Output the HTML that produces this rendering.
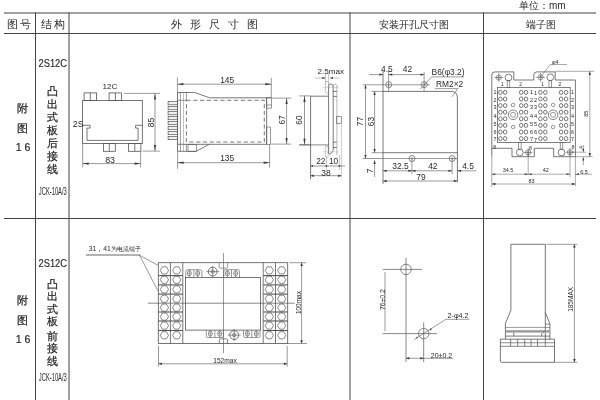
<!DOCTYPE html>
<html><head><meta charset="utf-8"><style>
html,body{margin:0;padding:0;background:#fff;}
body{width:600px;height:400px;overflow:hidden;}
svg{display:block;will-change:transform;}
text{font-family:"Liberation Sans",sans-serif;}
</style></head><body>
<svg width="600" height="400" viewBox="0 0 600 400">
<rect x="0" y="0" width="600" height="400" fill="#fff"/>
<line x1="4" y1="13" x2="596" y2="13" stroke="#444" stroke-width="1" />
<line x1="4" y1="33.5" x2="596" y2="33.5" stroke="#444" stroke-width="1" />
<line x1="4" y1="218.5" x2="596" y2="218.5" stroke="#444" stroke-width="1" />
<line x1="35.5" y1="12.5" x2="35.5" y2="400" stroke="#444" stroke-width="1" />
<line x1="69" y1="12.5" x2="69" y2="400" stroke="#444" stroke-width="1" />
<line x1="350" y1="12.5" x2="350" y2="400" stroke="#444" stroke-width="1" />
<line x1="483.5" y1="12.5" x2="483.5" y2="400" stroke="#444" stroke-width="1" />
<text x="519" y="9" font-size="10" fill="#2a2a2a" text-anchor="start" font-family="Liberation Sans" >单位：mm</text>
<text x="6.8" y="28" font-size="10.5" fill="#2a2a2a" text-anchor="start" font-family="Liberation Sans" >图</text>
<text x="20" y="28" font-size="10.5" fill="#2a2a2a" text-anchor="start" font-family="Liberation Sans" >号</text>
<text x="40.5" y="28" font-size="10.5" fill="#2a2a2a" text-anchor="start" font-family="Liberation Sans" >结</text>
<text x="53.5" y="28" font-size="10.5" fill="#2a2a2a" text-anchor="start" font-family="Liberation Sans" >构</text>
<text x="171.0" y="28" font-size="10.5" fill="#2a2a2a" text-anchor="start" font-family="Liberation Sans" >外</text>
<text x="189.9" y="28" font-size="10.5" fill="#2a2a2a" text-anchor="start" font-family="Liberation Sans" >形</text>
<text x="208.8" y="28" font-size="10.5" fill="#2a2a2a" text-anchor="start" font-family="Liberation Sans" >尺</text>
<text x="227.7" y="28" font-size="10.5" fill="#2a2a2a" text-anchor="start" font-family="Liberation Sans" >寸</text>
<text x="246.6" y="28" font-size="10.5" fill="#2a2a2a" text-anchor="start" font-family="Liberation Sans" >图</text>
<text x="378.5" y="28" font-size="9.8" fill="#2a2a2a" text-anchor="start" font-family="Liberation Sans" >安装开孔尺寸图</text>
<text x="526" y="28" font-size="10" fill="#2a2a2a" text-anchor="start" font-family="Liberation Sans" >端子图</text>
<text x="0" y="0" font-size="10.8" fill="#2a2a2a" font-family="Liberation Sans" text-anchor="middle" transform="translate(52.8 66.8) scale(0.86 1)" stroke="#2a2a2a" stroke-width="0.15">2S12C</text>
<text x="52" y="94.5" font-size="10.5" fill="#2a2a2a" text-anchor="middle" font-family="Liberation Sans" stroke="#2a2a2a" stroke-width="0.25">凸</text>
<text x="52" y="107.8" font-size="10.5" fill="#2a2a2a" text-anchor="middle" font-family="Liberation Sans" stroke="#2a2a2a" stroke-width="0.25">出</text>
<text x="52" y="121.2" font-size="10.5" fill="#2a2a2a" text-anchor="middle" font-family="Liberation Sans" stroke="#2a2a2a" stroke-width="0.25">式</text>
<text x="52" y="134.2" font-size="10.5" fill="#2a2a2a" text-anchor="middle" font-family="Liberation Sans" stroke="#2a2a2a" stroke-width="0.25">板</text>
<text x="52" y="146.5" font-size="10.5" fill="#2a2a2a" text-anchor="middle" font-family="Liberation Sans" stroke="#2a2a2a" stroke-width="0.25">后</text>
<text x="52" y="160.3" font-size="10.5" fill="#2a2a2a" text-anchor="middle" font-family="Liberation Sans" stroke="#2a2a2a" stroke-width="0.25">接</text>
<text x="52" y="172.8" font-size="10.5" fill="#2a2a2a" text-anchor="middle" font-family="Liberation Sans" stroke="#2a2a2a" stroke-width="0.25">线</text>
<text x="22.5" y="112" font-size="10.5" fill="#2a2a2a" text-anchor="middle" font-family="Liberation Sans" stroke="#2a2a2a" stroke-width="0.25">附</text>
<text x="22.5" y="131.8" font-size="10.5" fill="#2a2a2a" text-anchor="middle" font-family="Liberation Sans" stroke="#2a2a2a" stroke-width="0.25">图</text>
<text x="23" y="150.7" font-size="10.5" fill="#2a2a2a" text-anchor="middle" font-family="Liberation Sans" stroke="#2a2a2a" stroke-width="0.2">1&#160;6</text>
<text x="0" y="0" font-size="10" fill="#2a2a2a" font-family="Liberation Sans" text-anchor="middle" transform="translate(52.8 195.3) scale(0.58 1)">JCK-10A/3</text>
<text x="0" y="0" font-size="10.8" fill="#2a2a2a" font-family="Liberation Sans" text-anchor="middle" transform="translate(52.8 266.5) scale(0.86 1)" stroke="#2a2a2a" stroke-width="0.15">2S12C</text>
<text x="52" y="287.8" font-size="10.5" fill="#2a2a2a" text-anchor="middle" font-family="Liberation Sans" stroke="#2a2a2a" stroke-width="0.25">凸</text>
<text x="52" y="300.2" font-size="10.5" fill="#2a2a2a" text-anchor="middle" font-family="Liberation Sans" stroke="#2a2a2a" stroke-width="0.25">出</text>
<text x="52" y="312.5" font-size="10.5" fill="#2a2a2a" text-anchor="middle" font-family="Liberation Sans" stroke="#2a2a2a" stroke-width="0.25">式</text>
<text x="52" y="325" font-size="10.5" fill="#2a2a2a" text-anchor="middle" font-family="Liberation Sans" stroke="#2a2a2a" stroke-width="0.25">板</text>
<text x="52" y="339.5" font-size="10.5" fill="#2a2a2a" text-anchor="middle" font-family="Liberation Sans" stroke="#2a2a2a" stroke-width="0.25">前</text>
<text x="52" y="352" font-size="10.5" fill="#2a2a2a" text-anchor="middle" font-family="Liberation Sans" stroke="#2a2a2a" stroke-width="0.25">接</text>
<text x="52" y="365" font-size="10.5" fill="#2a2a2a" text-anchor="middle" font-family="Liberation Sans" stroke="#2a2a2a" stroke-width="0.25">线</text>
<text x="22.5" y="304.3" font-size="10.5" fill="#2a2a2a" text-anchor="middle" font-family="Liberation Sans" stroke="#2a2a2a" stroke-width="0.25">附</text>
<text x="22.5" y="323.5" font-size="10.5" fill="#2a2a2a" text-anchor="middle" font-family="Liberation Sans" stroke="#2a2a2a" stroke-width="0.25">图</text>
<text x="23" y="343.2" font-size="10.5" fill="#2a2a2a" text-anchor="middle" font-family="Liberation Sans" stroke="#2a2a2a" stroke-width="0.2">1&#160;6</text>
<text x="0" y="0" font-size="10" fill="#2a2a2a" font-family="Liberation Sans" text-anchor="middle" transform="translate(52.8 381.3) scale(0.58 1)">JCK-10A/3</text>
<rect x="82.6" y="100.4" width="59.70" height="43.20" stroke="#555" stroke-width="0.8" fill="none"/>
<rect x="84.1" y="92.9" width="12.50" height="7.50" stroke="#555" stroke-width="0.8" fill="none"/>
<line x1="90.3" y1="92.9" x2="90.3" y2="100.4" stroke="#555" stroke-width="0.8" />
<rect x="109.1" y="92.9" width="12.40" height="7.50" stroke="#555" stroke-width="0.8" fill="none"/>
<line x1="115.4" y1="92.9" x2="115.4" y2="100.4" stroke="#555" stroke-width="0.8" />
<rect x="103.4" y="143.6" width="11.90" height="7.70" stroke="#555" stroke-width="0.8" fill="none"/>
<line x1="109.3" y1="143.6" x2="109.3" y2="151.3" stroke="#555" stroke-width="0.8" />
<rect x="128.5" y="143.6" width="12.40" height="7.70" stroke="#555" stroke-width="0.8" fill="none"/>
<line x1="134.8" y1="143.6" x2="134.8" y2="151.3" stroke="#555" stroke-width="0.8" />
<path d="M82.6,125.3 H90.1 V128.1 H87 V140.4 H138.1 V128.1 H135.6 V125.3 H142.3" stroke="#555" stroke-width="0.8" fill="none" />
<text x="102.6" y="89.2" font-size="8.1" fill="#2a2a2a" text-anchor="start" font-family="Liberation Sans" >12C</text>
<text x="72.8" y="127.2" font-size="8.8" fill="#2a2a2a" text-anchor="start" font-family="Liberation Sans" >2S</text>
<line x1="124" y1="93.4" x2="160" y2="93.4" stroke="#555" stroke-width="0.6" />
<line x1="142.5" y1="151.1" x2="160" y2="151.1" stroke="#555" stroke-width="0.6" />
<line x1="155" y1="93.4" x2="155" y2="151.1" stroke="#555" stroke-width="0.6" />
<path d="M155.00,93.40 L156.10,99.40 L153.90,99.40 Z" fill="#3a3a3a" stroke="none"/>
<path d="M155.00,151.10 L153.90,145.10 L156.10,145.10 Z" fill="#3a3a3a" stroke="none"/>
<text x="153.8" y="122.5" font-size="8.6" fill="#2a2a2a" text-anchor="middle" font-family="Liberation Sans" transform="rotate(-90 153.8 122.5)" >85</text>
<line x1="82.7" y1="144" x2="82.7" y2="167.3" stroke="#555" stroke-width="0.6" />
<line x1="140.6" y1="151.3" x2="140.6" y2="167.3" stroke="#555" stroke-width="0.6" />
<line x1="82.7" y1="163.6" x2="140.6" y2="163.6" stroke="#555" stroke-width="0.6" />
<path d="M82.70,163.60 L88.70,162.50 L88.70,164.70 Z" fill="#3a3a3a" stroke="none"/>
<path d="M140.60,163.60 L134.60,164.70 L134.60,162.50 Z" fill="#3a3a3a" stroke="none"/>
<text x="110.1" y="162.5" font-size="8.8" fill="#2a2a2a" text-anchor="middle" font-family="Liberation Sans" >83</text>
<rect x="168.1" y="101.5" width="9.30" height="3.30" stroke="#555" stroke-width="0.7" fill="#f0f0f0"/>
<rect x="168.1" y="106.48" width="9.30" height="3.30" stroke="#555" stroke-width="0.7" fill="#f0f0f0"/>
<rect x="168.1" y="111.46000000000001" width="9.30" height="3.30" stroke="#555" stroke-width="0.7" fill="#f0f0f0"/>
<rect x="168.1" y="116.44" width="9.30" height="3.30" stroke="#555" stroke-width="0.7" fill="#f0f0f0"/>
<rect x="168.1" y="121.42" width="9.30" height="3.30" stroke="#555" stroke-width="0.7" fill="#f0f0f0"/>
<rect x="168.1" y="126.4" width="9.30" height="3.30" stroke="#555" stroke-width="0.7" fill="#f0f0f0"/>
<rect x="168.1" y="131.38" width="9.30" height="3.30" stroke="#555" stroke-width="0.7" fill="#f0f0f0"/>
<rect x="168.1" y="136.36" width="9.30" height="3.30" stroke="#555" stroke-width="0.7" fill="#f0f0f0"/>
<path d="M177.5,92.5 V151.3 H196.3 L209.1,144.3" stroke="#555" stroke-width="0.8" fill="none" />
<path d="M177.5,92.5 H194.6 L209.7,97.8 H271.3" stroke="#555" stroke-width="0.8" fill="none" />
<line x1="180.4" y1="92.5" x2="180.4" y2="151.3" stroke="#555" stroke-width="0.6" />
<line x1="183.5" y1="92.5" x2="183.5" y2="151.3" stroke="#999" stroke-width="0.6" />
<line x1="186.4" y1="92.5" x2="186.4" y2="100.3" stroke="#555" stroke-width="0.6" />
<line x1="186.4" y1="144.3" x2="186.4" y2="151.3" stroke="#555" stroke-width="0.6" />
<line x1="177.5" y1="100.3" x2="186.3" y2="100.3" stroke="#555" stroke-width="0.6" />
<line x1="177.5" y1="144.3" x2="266.7" y2="144.3" stroke="#555" stroke-width="0.8" />
<rect x="188" y="144.3" width="8.30" height="7.00" stroke="#555" stroke-width="0.6" fill="none"/>
<path d="M186.4,100.3 H264.3 V142 H186.4 Z" stroke="#555" stroke-width="0.8" fill="none" stroke-dasharray="4.2,2.6"/>
<line x1="266.7" y1="97.8" x2="266.7" y2="144.3" stroke="#555" stroke-width="0.8" />
<rect x="266.7" y="97.8" width="4.60" height="10.30" stroke="#555" stroke-width="0.6" fill="none"/>
<line x1="266.7" y1="105" x2="271.3" y2="105" stroke="#555" stroke-width="0.6" />
<rect x="266.7" y="127" width="3.70" height="17.30" stroke="#555" stroke-width="0.6" fill="none"/>
<line x1="177.4" y1="77.4" x2="177.4" y2="92.5" stroke="#555" stroke-width="0.6" />
<line x1="271.3" y1="78" x2="271.3" y2="97.8" stroke="#555" stroke-width="0.6" />
<line x1="177.4" y1="84.2" x2="271.3" y2="84.2" stroke="#555" stroke-width="0.6" />
<path d="M177.40,84.20 L183.40,83.10 L183.40,85.30 Z" fill="#3a3a3a" stroke="none"/>
<path d="M271.30,84.20 L265.30,85.30 L265.30,83.10 Z" fill="#3a3a3a" stroke="none"/>
<text x="227.2" y="82.9" font-size="8.4" fill="#2a2a2a" text-anchor="middle" font-family="Liberation Sans" >145</text>
<line x1="177.6" y1="151.3" x2="177.6" y2="168.8" stroke="#555" stroke-width="0.6" />
<line x1="269.6" y1="144.3" x2="269.6" y2="167.6" stroke="#555" stroke-width="0.6" />
<line x1="177.6" y1="162.7" x2="269.6" y2="162.7" stroke="#555" stroke-width="0.6" />
<path d="M177.60,162.70 L183.60,161.60 L183.60,163.80 Z" fill="#3a3a3a" stroke="none"/>
<path d="M269.60,162.70 L263.60,163.80 L263.60,161.60 Z" fill="#3a3a3a" stroke="none"/>
<text x="227.2" y="160.9" font-size="8.4" fill="#2a2a2a" text-anchor="middle" font-family="Liberation Sans" >135</text>
<line x1="272" y1="98.1" x2="291.3" y2="98.1" stroke="#555" stroke-width="0.6" />
<line x1="271" y1="144.1" x2="291" y2="144.1" stroke="#555" stroke-width="0.6" />
<line x1="286.6" y1="98.1" x2="286.6" y2="144.1" stroke="#555" stroke-width="0.6" />
<path d="M286.60,98.10 L287.70,104.10 L285.50,104.10 Z" fill="#3a3a3a" stroke="none"/>
<path d="M286.60,144.10 L285.50,138.10 L287.70,138.10 Z" fill="#3a3a3a" stroke="none"/>
<text x="284.6" y="119.9" font-size="8.4" fill="#2a2a2a" text-anchor="middle" font-family="Liberation Sans" transform="rotate(-90 284.6 119.9)" >67</text>
<line x1="299.2" y1="95.9" x2="310.5" y2="95.9" stroke="#555" stroke-width="0.6" />
<line x1="299.2" y1="144.8" x2="310.5" y2="144.8" stroke="#555" stroke-width="0.6" />
<line x1="304.5" y1="95.9" x2="304.5" y2="144.8" stroke="#555" stroke-width="0.6" />
<path d="M304.50,95.90 L305.60,101.90 L303.40,101.90 Z" fill="#3a3a3a" stroke="none"/>
<path d="M304.50,144.80 L303.40,138.80 L305.60,138.80 Z" fill="#3a3a3a" stroke="none"/>
<text x="301.7" y="120" font-size="8.4" fill="#2a2a2a" text-anchor="middle" font-family="Liberation Sans" transform="rotate(-90 301.7 120)" >60</text>
<path d="M310.6,179.4 V96.2 H328.5" stroke="#555" stroke-width="0.8" fill="none" />
<line x1="299.2" y1="144.9" x2="328.5" y2="144.9" stroke="#555" stroke-width="0.7" />
<path d="M328.6,153.6 V85.6 Q328.8,84 330.6,84 Q333.2,84.3 333.2,86.6 V150.6 L330.8,153.6 Q329.7,154.6 328.6,153.6" stroke="#555" stroke-width="0.8" fill="none" />
<path d="M333.2,86.6 Q333.4,84 335.1,84 Q336.9,84.2 336.9,86.4 V155" stroke="#888" stroke-width="0.6" fill="none" />
<rect x="325.4" y="81.4" width="3.1" height="11.6" rx="1.5" ry="1.5" stroke="#777" stroke-width="0.6" fill="none" stroke-dasharray="1.6,0.8"/>
<line x1="323.1" y1="87.4" x2="338.7" y2="87.4" stroke="#aaa" stroke-width="0.5" />
<line x1="333.2" y1="91.4" x2="336.9" y2="91.4" stroke="#555" stroke-width="0.8" />
<line x1="333.2" y1="96.4" x2="336.9" y2="96.4" stroke="#555" stroke-width="0.8" />
<rect x="336.6" y="116.7" width="5.00" height="6.80" stroke="#555" stroke-width="0.6" fill="none"/>
<line x1="341.4" y1="123.5" x2="341.4" y2="177.5" stroke="#999" stroke-width="0.5" />
<rect x="325.3" y="146.3" width="2.9" height="10.9" rx="1" ry="1" stroke="#777" stroke-width="0.6" fill="none" stroke-dasharray="1.6,0.8"/>
<line x1="333.2" y1="142.2" x2="336.7" y2="142.2" stroke="#555" stroke-width="0.8" />
<line x1="333.2" y1="147.5" x2="336.7" y2="147.5" stroke="#555" stroke-width="0.8" />
<line x1="323.1" y1="151.9" x2="338.7" y2="151.9" stroke="#aaa" stroke-width="0.5" />
<line x1="326.4" y1="157" x2="326.4" y2="170" stroke="#888" stroke-width="0.5" />
<line x1="339.4" y1="155" x2="339.4" y2="170" stroke="#888" stroke-width="0.5" />
<line x1="310" y1="166" x2="345" y2="166" stroke="#555" stroke-width="0.6" />
<circle cx="312.4" cy="166" r="1" stroke="#555" stroke-width="0" fill="#555"/>
<circle cx="326.4" cy="166" r="1" stroke="#555" stroke-width="0" fill="#555"/>
<circle cx="339.4" cy="166" r="1" stroke="#555" stroke-width="0" fill="#555"/>
<text x="320.8" y="164.3" font-size="8.4" fill="#2a2a2a" text-anchor="middle" font-family="Liberation Sans" >22</text>
<text x="333.6" y="164.3" font-size="8.4" fill="#2a2a2a" text-anchor="middle" font-family="Liberation Sans" >10</text>
<line x1="310.6" y1="175.7" x2="341.4" y2="175.7" stroke="#555" stroke-width="0.6" />
<path d="M310.60,175.70 L313.90,174.50 L313.90,176.90 Z" fill="#3a3a3a" stroke="none"/>
<path d="M341.40,175.70 L338.10,176.90 L338.10,174.50 Z" fill="#3a3a3a" stroke="none"/>
<text x="325.9" y="176" font-size="8.4" fill="#2a2a2a" text-anchor="middle" font-family="Liberation Sans" >38</text>
<line x1="325.6" y1="73" x2="325.6" y2="83.5" stroke="#888" stroke-width="0.5" />
<line x1="328.55" y1="73" x2="328.55" y2="83.5" stroke="#888" stroke-width="0.5" />
<line x1="315.5" y1="78" x2="325.5" y2="78" stroke="#999" stroke-width="0.6" />
<path d="M325.50,78.00 L322.30,79.10 L322.30,76.90 Z" fill="#3a3a3a" stroke="none"/>
<line x1="329.8" y1="78" x2="339.2" y2="78" stroke="#999" stroke-width="0.6" />
<path d="M329.80,78.00 L333.00,76.90 L333.00,79.10 Z" fill="#3a3a3a" stroke="none"/>
<text x="317.6" y="73.5" font-size="8.1" fill="#2a2a2a" text-anchor="start" font-family="Liberation Sans" >2.5max</text>
<path d="M383,70 V183.9" stroke="#555" stroke-width="0.8" fill="none" />
<path d="M383,91.4 H450.9 Q457.4,91.4 457.4,97.9 V182.2" stroke="#555" stroke-width="0.8" fill="none" />
<line x1="383" y1="152.7" x2="457.4" y2="152.7" stroke="#555" stroke-width="0.8" />
<line x1="371.6" y1="91.4" x2="383" y2="91.4" stroke="#555" stroke-width="0.6" />
<line x1="371.6" y1="152.7" x2="383" y2="152.7" stroke="#555" stroke-width="0.6" />
<line x1="362.9" y1="84.8" x2="430" y2="84.8" stroke="#555" stroke-width="0.6" />
<line x1="362.9" y1="158.5" x2="458" y2="158.5" stroke="#555" stroke-width="0.6" />
<circle cx="388.7" cy="84.6" r="3" stroke="#555" stroke-width="0.7" fill="none"/>
<line x1="388.7" y1="83.0" x2="388.7" y2="86.19999999999999" stroke="#555" stroke-width="0.5" />
<circle cx="424.3" cy="84.6" r="3" stroke="#555" stroke-width="0.7" fill="none"/>
<line x1="424.3" y1="83.0" x2="424.3" y2="86.19999999999999" stroke="#555" stroke-width="0.5" />
<circle cx="412" cy="158.5" r="3" stroke="#555" stroke-width="0.7" fill="none"/>
<line x1="412" y1="156.9" x2="412" y2="160.1" stroke="#555" stroke-width="0.5" />
<circle cx="452.2" cy="158.5" r="3" stroke="#555" stroke-width="0.7" fill="none"/>
<line x1="452.2" y1="156.9" x2="452.2" y2="160.1" stroke="#555" stroke-width="0.5" />
<line x1="388.6" y1="70" x2="388.6" y2="91.4" stroke="#555" stroke-width="0.6" />
<line x1="424.1" y1="72" x2="424.1" y2="91.4" stroke="#555" stroke-width="0.6" />
<line x1="369" y1="74.6" x2="383" y2="74.6" stroke="#555" stroke-width="0.6" />
<path d="M383.00,74.60 L379.40,75.75 L379.40,73.45 Z" fill="#3a3a3a" stroke="none"/>
<line x1="388.6" y1="74.6" x2="424.1" y2="74.6" stroke="#555" stroke-width="0.6" />
<path d="M388.60,74.60 L392.20,73.45 L392.20,75.75 Z" fill="#3a3a3a" stroke="none"/>
<path d="M424.10,74.60 L420.50,75.75 L420.50,73.45 Z" fill="#3a3a3a" stroke="none"/>
<text x="386.8" y="72" font-size="8.4" fill="#2a2a2a" text-anchor="middle" font-family="Liberation Sans" >4.5</text>
<text x="407.5" y="72" font-size="8.4" fill="#2a2a2a" text-anchor="middle" font-family="Liberation Sans" >42</text>
<line x1="365.5" y1="84.8" x2="365.5" y2="158.5" stroke="#555" stroke-width="0.6" />
<path d="M365.50,84.80 L366.65,88.40 L364.35,88.40 Z" fill="#3a3a3a" stroke="none"/>
<path d="M365.50,158.50 L364.35,154.90 L366.65,154.90 Z" fill="#3a3a3a" stroke="none"/>
<text x="362.9" y="121.5" font-size="8.4" fill="#2a2a2a" text-anchor="middle" font-family="Liberation Sans" transform="rotate(-90 362.9 121.5)" >77</text>
<line x1="374.6" y1="91.4" x2="374.6" y2="152.7" stroke="#555" stroke-width="0.6" />
<path d="M374.60,91.40 L375.75,95.00 L373.45,95.00 Z" fill="#3a3a3a" stroke="none"/>
<path d="M374.60,152.70 L373.45,149.10 L375.75,149.10 Z" fill="#3a3a3a" stroke="none"/>
<text x="374.4" y="121.5" font-size="8.4" fill="#2a2a2a" text-anchor="middle" font-family="Liberation Sans" transform="rotate(-90 374.4 121.5)" >63</text>
<line x1="374.6" y1="160.3" x2="374.6" y2="176.9" stroke="#555" stroke-width="0.6" />
<path d="M374.60,160.30 L375.75,163.90 L373.45,163.90 Z" fill="#3a3a3a" stroke="none"/>
<text x="373.4" y="170.8" font-size="8.4" fill="#2a2a2a" text-anchor="middle" font-family="Liberation Sans" transform="rotate(-90 373.4 170.8)" >7</text>
<line x1="411.9" y1="158.5" x2="411.9" y2="174.3" stroke="#555" stroke-width="0.6" />
<line x1="452.1" y1="158.5" x2="452.1" y2="174.3" stroke="#555" stroke-width="0.6" />
<line x1="383" y1="170.8" x2="452.1" y2="170.8" stroke="#555" stroke-width="0.6" />
<path d="M383.00,170.80 L386.60,169.65 L386.60,171.95 Z" fill="#3a3a3a" stroke="none"/>
<path d="M411.90,170.80 L408.30,171.95 L408.30,169.65 Z" fill="#3a3a3a" stroke="none"/>
<path d="M411.90,170.80 L415.50,169.65 L415.50,171.95 Z" fill="#3a3a3a" stroke="none"/>
<path d="M452.10,170.80 L448.50,171.95 L448.50,169.65 Z" fill="#3a3a3a" stroke="none"/>
<line x1="457.4" y1="170.8" x2="476.3" y2="170.8" stroke="#555" stroke-width="0.6" />
<path d="M457.40,170.80 L461.00,169.65 L461.00,171.95 Z" fill="#3a3a3a" stroke="none"/>
<text x="400.5" y="169" font-size="8.4" fill="#2a2a2a" text-anchor="middle" font-family="Liberation Sans" >32.5</text>
<text x="432.8" y="168.7" font-size="8.4" fill="#2a2a2a" text-anchor="middle" font-family="Liberation Sans" >42</text>
<text x="468" y="168.7" font-size="8.4" fill="#2a2a2a" text-anchor="middle" font-family="Liberation Sans" >4.5</text>
<line x1="383" y1="181" x2="457.4" y2="181" stroke="#555" stroke-width="0.6" />
<path d="M383.00,181.00 L386.60,179.85 L386.60,182.15 Z" fill="#3a3a3a" stroke="none"/>
<path d="M457.40,181.00 L453.80,182.15 L453.80,179.85 Z" fill="#3a3a3a" stroke="none"/>
<text x="421" y="179.5" font-size="8.4" fill="#2a2a2a" text-anchor="middle" font-family="Liberation Sans" >79</text>
<text x="431.6" y="75.1" font-size="8.4" fill="#2a2a2a" text-anchor="start" font-family="Liberation Sans" >B6(φ3.2)</text>
<line x1="431.6" y1="76.9" x2="464" y2="76.9" stroke="#555" stroke-width="0.6" />
<line x1="431.6" y1="76.9" x2="420.3" y2="89.1" stroke="#555" stroke-width="0.6" />
<text x="436" y="87.4" font-size="8.4" fill="#2a2a2a" text-anchor="start" font-family="Liberation Sans" >RM2×2</text>
<line x1="435.1" y1="88.6" x2="457.9" y2="88.6" stroke="#555" stroke-width="0.6" />
<line x1="457.9" y1="88.6" x2="451.8" y2="96.7" stroke="#555" stroke-width="0.6" />
<path d="M491.8,156.7 V148.3 M491.8,148.3 V75 Q491.8,71.9 494.9,71.9 H513.8 V80 H533.8 V75 Q533.8,71.9 536.9,71.9 H555.2 V80 H575.4 V156.7 H553.7 V148.3 H534.3 V156.7 H512 V148.3 H491.8" stroke="#555" stroke-width="0.8" fill="none" />
<rect x="497.4" y="87.5" width="72.80" height="55.10" stroke="#555" stroke-width="0.75" fill="none"/>
<circle cx="498.8" cy="77.5" r="2.6" stroke="#555" stroke-width="0.6" fill="none"/>
<line x1="494.5" y1="77.5" x2="503.1" y2="77.5" stroke="#555" stroke-width="0.6" />
<line x1="498.8" y1="73.2" x2="498.8" y2="81.8" stroke="#555" stroke-width="0.6" />
<circle cx="498.8" cy="77.5" r="0.9" stroke="#555" stroke-width="0.5" fill="none"/>
<circle cx="540.6" cy="77.3" r="2.6" stroke="#555" stroke-width="0.6" fill="none"/>
<line x1="536.3000000000001" y1="77.3" x2="544.9" y2="77.3" stroke="#555" stroke-width="0.6" />
<line x1="540.6" y1="73.0" x2="540.6" y2="81.6" stroke="#555" stroke-width="0.6" />
<circle cx="540.6" cy="77.3" r="0.9" stroke="#555" stroke-width="0.5" fill="none"/>
<circle cx="528.2" cy="152.4" r="2.6" stroke="#555" stroke-width="0.6" fill="none"/>
<line x1="523.9000000000001" y1="152.4" x2="532.5" y2="152.4" stroke="#555" stroke-width="0.6" />
<line x1="528.2" y1="148.1" x2="528.2" y2="156.70000000000002" stroke="#555" stroke-width="0.6" />
<circle cx="528.2" cy="152.4" r="0.9" stroke="#555" stroke-width="0.5" fill="none"/>
<circle cx="570" cy="152.2" r="2.6" stroke="#555" stroke-width="0.6" fill="none"/>
<line x1="565.7" y1="152.2" x2="574.3" y2="152.2" stroke="#555" stroke-width="0.6" />
<line x1="570" y1="147.89999999999998" x2="570" y2="156.5" stroke="#555" stroke-width="0.6" />
<circle cx="570" cy="152.2" r="0.9" stroke="#555" stroke-width="0.5" fill="none"/>
<circle cx="508.5" cy="77.5" r="3.4" stroke="#555" stroke-width="0.75" fill="#fff"/>
<rect x="507.2" y="80.5" width="2.60" height="6.90" stroke="#555" stroke-width="0.6" fill="none"/>
<circle cx="550.3" cy="77.3" r="3.4" stroke="#555" stroke-width="0.75" fill="#fff"/>
<rect x="549.0" y="80.5" width="2.60" height="6.90" stroke="#555" stroke-width="0.6" fill="none"/>
<circle cx="519.8" cy="152.5" r="3.4" stroke="#555" stroke-width="0.75" fill="#fff"/>
<rect x="518.5" y="142.7" width="2.60" height="6.80" stroke="#555" stroke-width="0.6" fill="none"/>
<circle cx="561.5" cy="152.5" r="3.4" stroke="#555" stroke-width="0.75" fill="#fff"/>
<rect x="560.2" y="142.7" width="2.60" height="6.80" stroke="#555" stroke-width="0.6" fill="none"/>
<text x="502.5" y="86" font-size="5" fill="#2a2a2a" text-anchor="middle" font-family="Liberation Sans" >1</text>
<text x="520.6" y="86" font-size="5" fill="#2a2a2a" text-anchor="middle" font-family="Liberation Sans" >2</text>
<text x="542.7" y="86" font-size="5" fill="#2a2a2a" text-anchor="middle" font-family="Liberation Sans" >1</text>
<text x="560" y="86" font-size="5" fill="#2a2a2a" text-anchor="middle" font-family="Liberation Sans" >2</text>
<text x="494.7" y="148.6" font-size="5" fill="#2a2a2a" text-anchor="middle" font-family="Liberation Sans" >8</text>
<text x="530.5" y="149.5" font-size="5" fill="#2a2a2a" text-anchor="middle" font-family="Liberation Sans" >8</text>
<text x="572.8" y="149" font-size="5" fill="#2a2a2a" text-anchor="middle" font-family="Liberation Sans" >8</text>
<ellipse cx="500.4" cy="92.40" rx="1.75" ry="2.05" stroke="#555" stroke-width="0.8" fill="none"/>
<ellipse cx="505.1" cy="92.40" rx="1.75" ry="2.05" stroke="#555" stroke-width="0.8" fill="none"/>
<ellipse cx="521.2" cy="92.40" rx="1.75" ry="2.05" stroke="#555" stroke-width="0.8" fill="none"/>
<ellipse cx="526.0" cy="92.40" rx="1.75" ry="2.05" stroke="#555" stroke-width="0.8" fill="none"/>
<ellipse cx="540.4" cy="92.40" rx="1.75" ry="2.05" stroke="#555" stroke-width="0.8" fill="none"/>
<ellipse cx="545.3" cy="92.40" rx="1.75" ry="2.05" stroke="#555" stroke-width="0.8" fill="none"/>
<ellipse cx="561.1" cy="92.40" rx="1.75" ry="2.05" stroke="#555" stroke-width="0.8" fill="none"/>
<ellipse cx="566.1" cy="92.40" rx="1.75" ry="2.05" stroke="#555" stroke-width="0.8" fill="none"/>
<ellipse cx="500.4" cy="99.00" rx="1.75" ry="2.05" stroke="#555" stroke-width="0.8" fill="none"/>
<ellipse cx="505.1" cy="99.00" rx="1.75" ry="2.05" stroke="#555" stroke-width="0.8" fill="none"/>
<ellipse cx="521.2" cy="99.00" rx="1.75" ry="2.05" stroke="#555" stroke-width="0.8" fill="none"/>
<ellipse cx="526.0" cy="99.00" rx="1.75" ry="2.05" stroke="#555" stroke-width="0.8" fill="none"/>
<ellipse cx="540.4" cy="99.00" rx="1.75" ry="2.05" stroke="#555" stroke-width="0.8" fill="none"/>
<ellipse cx="545.3" cy="99.00" rx="1.75" ry="2.05" stroke="#555" stroke-width="0.8" fill="none"/>
<ellipse cx="561.1" cy="99.00" rx="1.75" ry="2.05" stroke="#555" stroke-width="0.8" fill="none"/>
<ellipse cx="566.1" cy="99.00" rx="1.75" ry="2.05" stroke="#555" stroke-width="0.8" fill="none"/>
<ellipse cx="500.4" cy="105.60" rx="1.75" ry="2.05" stroke="#555" stroke-width="0.8" fill="none"/>
<ellipse cx="505.1" cy="105.60" rx="1.75" ry="2.05" stroke="#555" stroke-width="0.8" fill="none"/>
<ellipse cx="521.2" cy="105.60" rx="1.75" ry="2.05" stroke="#555" stroke-width="0.8" fill="none"/>
<ellipse cx="526.0" cy="105.60" rx="1.75" ry="2.05" stroke="#555" stroke-width="0.8" fill="none"/>
<ellipse cx="540.4" cy="105.60" rx="1.75" ry="2.05" stroke="#555" stroke-width="0.8" fill="none"/>
<ellipse cx="545.3" cy="105.60" rx="1.75" ry="2.05" stroke="#555" stroke-width="0.8" fill="none"/>
<ellipse cx="561.1" cy="105.60" rx="1.75" ry="2.05" stroke="#555" stroke-width="0.8" fill="none"/>
<ellipse cx="566.1" cy="105.60" rx="1.75" ry="2.05" stroke="#555" stroke-width="0.8" fill="none"/>
<ellipse cx="500.4" cy="112.20" rx="1.75" ry="2.05" stroke="#555" stroke-width="0.8" fill="none"/>
<ellipse cx="505.1" cy="112.20" rx="1.75" ry="2.05" stroke="#555" stroke-width="0.8" fill="none"/>
<ellipse cx="521.2" cy="112.20" rx="1.75" ry="2.05" stroke="#555" stroke-width="0.8" fill="none"/>
<ellipse cx="526.0" cy="112.20" rx="1.75" ry="2.05" stroke="#555" stroke-width="0.8" fill="none"/>
<ellipse cx="540.4" cy="112.20" rx="1.75" ry="2.05" stroke="#555" stroke-width="0.8" fill="none"/>
<ellipse cx="545.3" cy="112.20" rx="1.75" ry="2.05" stroke="#555" stroke-width="0.8" fill="none"/>
<ellipse cx="561.1" cy="112.20" rx="1.75" ry="2.05" stroke="#555" stroke-width="0.8" fill="none"/>
<ellipse cx="566.1" cy="112.20" rx="1.75" ry="2.05" stroke="#555" stroke-width="0.8" fill="none"/>
<ellipse cx="500.4" cy="118.80" rx="1.75" ry="2.05" stroke="#555" stroke-width="0.8" fill="none"/>
<ellipse cx="505.1" cy="118.80" rx="1.75" ry="2.05" stroke="#555" stroke-width="0.8" fill="none"/>
<ellipse cx="521.2" cy="118.80" rx="1.75" ry="2.05" stroke="#555" stroke-width="0.8" fill="none"/>
<ellipse cx="526.0" cy="118.80" rx="1.75" ry="2.05" stroke="#555" stroke-width="0.8" fill="none"/>
<ellipse cx="540.4" cy="118.80" rx="1.75" ry="2.05" stroke="#555" stroke-width="0.8" fill="none"/>
<ellipse cx="545.3" cy="118.80" rx="1.75" ry="2.05" stroke="#555" stroke-width="0.8" fill="none"/>
<ellipse cx="561.1" cy="118.80" rx="1.75" ry="2.05" stroke="#555" stroke-width="0.8" fill="none"/>
<ellipse cx="566.1" cy="118.80" rx="1.75" ry="2.05" stroke="#555" stroke-width="0.8" fill="none"/>
<ellipse cx="500.4" cy="125.40" rx="1.75" ry="2.05" stroke="#555" stroke-width="0.8" fill="none"/>
<ellipse cx="505.1" cy="125.40" rx="1.75" ry="2.05" stroke="#555" stroke-width="0.8" fill="none"/>
<ellipse cx="521.2" cy="125.40" rx="1.75" ry="2.05" stroke="#555" stroke-width="0.8" fill="none"/>
<ellipse cx="526.0" cy="125.40" rx="1.75" ry="2.05" stroke="#555" stroke-width="0.8" fill="none"/>
<ellipse cx="540.4" cy="125.40" rx="1.75" ry="2.05" stroke="#555" stroke-width="0.8" fill="none"/>
<ellipse cx="545.3" cy="125.40" rx="1.75" ry="2.05" stroke="#555" stroke-width="0.8" fill="none"/>
<ellipse cx="561.1" cy="125.40" rx="1.75" ry="2.05" stroke="#555" stroke-width="0.8" fill="none"/>
<ellipse cx="566.1" cy="125.40" rx="1.75" ry="2.05" stroke="#555" stroke-width="0.8" fill="none"/>
<ellipse cx="500.4" cy="132.00" rx="1.75" ry="2.05" stroke="#555" stroke-width="0.8" fill="none"/>
<ellipse cx="505.1" cy="132.00" rx="1.75" ry="2.05" stroke="#555" stroke-width="0.8" fill="none"/>
<ellipse cx="521.2" cy="132.00" rx="1.75" ry="2.05" stroke="#555" stroke-width="0.8" fill="none"/>
<ellipse cx="526.0" cy="132.00" rx="1.75" ry="2.05" stroke="#555" stroke-width="0.8" fill="none"/>
<ellipse cx="540.4" cy="132.00" rx="1.75" ry="2.05" stroke="#555" stroke-width="0.8" fill="none"/>
<ellipse cx="545.3" cy="132.00" rx="1.75" ry="2.05" stroke="#555" stroke-width="0.8" fill="none"/>
<ellipse cx="561.1" cy="132.00" rx="1.75" ry="2.05" stroke="#555" stroke-width="0.8" fill="none"/>
<ellipse cx="566.1" cy="132.00" rx="1.75" ry="2.05" stroke="#555" stroke-width="0.8" fill="none"/>
<ellipse cx="500.4" cy="138.60" rx="1.75" ry="2.05" stroke="#555" stroke-width="0.8" fill="none"/>
<ellipse cx="505.1" cy="138.60" rx="1.75" ry="2.05" stroke="#555" stroke-width="0.8" fill="none"/>
<ellipse cx="521.2" cy="138.60" rx="1.75" ry="2.05" stroke="#555" stroke-width="0.8" fill="none"/>
<ellipse cx="526.0" cy="138.60" rx="1.75" ry="2.05" stroke="#555" stroke-width="0.8" fill="none"/>
<ellipse cx="540.4" cy="138.60" rx="1.75" ry="2.05" stroke="#555" stroke-width="0.8" fill="none"/>
<ellipse cx="545.3" cy="138.60" rx="1.75" ry="2.05" stroke="#555" stroke-width="0.8" fill="none"/>
<ellipse cx="561.1" cy="138.60" rx="1.75" ry="2.05" stroke="#555" stroke-width="0.8" fill="none"/>
<ellipse cx="566.1" cy="138.60" rx="1.75" ry="2.05" stroke="#555" stroke-width="0.8" fill="none"/>
<text x="495.1" y="94.2" font-size="5.4" fill="#2a2a2a" text-anchor="middle" font-family="Liberation Sans" >1</text>
<text x="572.6" y="94.2" font-size="5.4" fill="#2a2a2a" text-anchor="middle" font-family="Liberation Sans" >1</text>
<text x="531.6" y="94.10000000000001" font-size="5.6" fill="#2a2a2a" text-anchor="middle" font-family="Liberation Sans" >1</text>
<text x="535.6" y="94.5" font-size="5.6" fill="#2a2a2a" text-anchor="middle" font-family="Liberation Sans" >1</text>
<text x="495.1" y="101.9" font-size="5.4" fill="#2a2a2a" text-anchor="middle" font-family="Liberation Sans" >2</text>
<text x="572.6" y="101.9" font-size="5.4" fill="#2a2a2a" text-anchor="middle" font-family="Liberation Sans" >2</text>
<text x="531.6" y="101.80000000000001" font-size="5.6" fill="#2a2a2a" text-anchor="middle" font-family="Liberation Sans" >2</text>
<text x="535.6" y="102.2" font-size="5.6" fill="#2a2a2a" text-anchor="middle" font-family="Liberation Sans" >2</text>
<text x="495.1" y="109.0" font-size="5.4" fill="#2a2a2a" text-anchor="middle" font-family="Liberation Sans" >3</text>
<text x="572.6" y="109.0" font-size="5.4" fill="#2a2a2a" text-anchor="middle" font-family="Liberation Sans" >3</text>
<text x="531.6" y="108.9" font-size="5.6" fill="#2a2a2a" text-anchor="middle" font-family="Liberation Sans" >3</text>
<text x="535.6" y="109.3" font-size="5.6" fill="#2a2a2a" text-anchor="middle" font-family="Liberation Sans" >3</text>
<text x="495.1" y="117.6" font-size="5.4" fill="#2a2a2a" text-anchor="middle" font-family="Liberation Sans" >4</text>
<text x="572.6" y="117.6" font-size="5.4" fill="#2a2a2a" text-anchor="middle" font-family="Liberation Sans" >4</text>
<text x="531.6" y="117.5" font-size="5.6" fill="#2a2a2a" text-anchor="middle" font-family="Liberation Sans" >4</text>
<text x="535.6" y="117.89999999999999" font-size="5.6" fill="#2a2a2a" text-anchor="middle" font-family="Liberation Sans" >4</text>
<text x="495.1" y="125.8" font-size="5.4" fill="#2a2a2a" text-anchor="middle" font-family="Liberation Sans" >5</text>
<text x="572.6" y="125.8" font-size="5.4" fill="#2a2a2a" text-anchor="middle" font-family="Liberation Sans" >5</text>
<text x="531.6" y="125.7" font-size="5.6" fill="#2a2a2a" text-anchor="middle" font-family="Liberation Sans" >5</text>
<text x="535.6" y="126.1" font-size="5.6" fill="#2a2a2a" text-anchor="middle" font-family="Liberation Sans" >5</text>
<text x="495.1" y="133.9" font-size="5.4" fill="#2a2a2a" text-anchor="middle" font-family="Liberation Sans" >6</text>
<text x="572.6" y="133.9" font-size="5.4" fill="#2a2a2a" text-anchor="middle" font-family="Liberation Sans" >6</text>
<text x="531.6" y="133.8" font-size="5.6" fill="#2a2a2a" text-anchor="middle" font-family="Liberation Sans" >6</text>
<text x="535.6" y="134.20000000000002" font-size="5.6" fill="#2a2a2a" text-anchor="middle" font-family="Liberation Sans" >6</text>
<text x="495.1" y="141.2" font-size="5.4" fill="#2a2a2a" text-anchor="middle" font-family="Liberation Sans" >7</text>
<text x="572.6" y="141.2" font-size="5.4" fill="#2a2a2a" text-anchor="middle" font-family="Liberation Sans" >7</text>
<text x="531.6" y="141.1" font-size="5.6" fill="#2a2a2a" text-anchor="middle" font-family="Liberation Sans" >7</text>
<text x="535.6" y="141.5" font-size="5.6" fill="#2a2a2a" text-anchor="middle" font-family="Liberation Sans" >7</text>
<circle cx="513.1" cy="114.8" r="4.8" stroke="#555" stroke-width="0.7" fill="none"/>
<circle cx="513.1" cy="114.8" r="2.5" stroke="#555" stroke-width="0.6" fill="none"/>
<circle cx="513.1" cy="105" r="1.8" stroke="#555" stroke-width="0.6" fill="none"/>
<circle cx="513.1" cy="127" r="1.8" stroke="#555" stroke-width="0.6" fill="none"/>
<circle cx="553.1" cy="114.8" r="4.8" stroke="#555" stroke-width="0.7" fill="none"/>
<circle cx="553.1" cy="114.8" r="2.5" stroke="#555" stroke-width="0.6" fill="none"/>
<circle cx="553.1" cy="105" r="1.8" stroke="#555" stroke-width="0.6" fill="none"/>
<circle cx="553.1" cy="127" r="1.8" stroke="#555" stroke-width="0.6" fill="none"/>
<text x="555.3" y="63.7" font-size="5.5" fill="#2a2a2a" text-anchor="middle" font-family="Liberation Sans" >φ4</text>
<line x1="550.3" y1="64.5" x2="567" y2="64.5" stroke="#555" stroke-width="0.5" />
<line x1="550.3" y1="64.5" x2="540.6" y2="77.2" stroke="#555" stroke-width="0.5" />
<line x1="555.2" y1="71.3" x2="594.2" y2="71.3" stroke="#555" stroke-width="0.5" />
<line x1="575.4" y1="156.7" x2="592.7" y2="156.7" stroke="#555" stroke-width="0.5" />
<line x1="589.8" y1="71.3" x2="589.8" y2="156.7" stroke="#555" stroke-width="0.5" />
<path d="M589.80,71.30 L590.95,74.90 L588.65,74.90 Z" fill="#3a3a3a" stroke="none"/>
<path d="M589.80,156.70 L588.65,153.10 L590.95,153.10 Z" fill="#3a3a3a" stroke="none"/>
<text x="588.4" y="113.8" font-size="5.5" fill="#2a2a2a" text-anchor="middle" font-family="Liberation Sans" transform="rotate(-90 588.4 113.8)" >85</text>
<line x1="572" y1="152.2" x2="586" y2="152.2" stroke="#555" stroke-width="0.5" />
<line x1="583.3" y1="145" x2="583.3" y2="152.2" stroke="#555" stroke-width="0.5" />
<path d="M583.30,152.20 L582.40,148.70 L584.20,148.70 Z" fill="#3a3a3a" stroke="none"/>
<line x1="583.3" y1="157.7" x2="583.3" y2="165.2" stroke="#555" stroke-width="0.5" />
<path d="M583.30,156.90 L584.20,160.40 L582.40,160.40 Z" fill="#3a3a3a" stroke="none"/>
<text x="583" y="147.2" font-size="5.5" fill="#2a2a2a" text-anchor="middle" font-family="Liberation Sans" transform="rotate(-90 583 147.2)" >4</text>
<line x1="491.8" y1="156.7" x2="491.8" y2="187" stroke="#555" stroke-width="0.5" />
<line x1="528.2" y1="152.4" x2="528.2" y2="175" stroke="#555" stroke-width="0.5" />
<line x1="570" y1="152.2" x2="570" y2="177.2" stroke="#555" stroke-width="0.5" />
<line x1="575.4" y1="156.7" x2="575.4" y2="186.2" stroke="#555" stroke-width="0.5" />
<line x1="491.8" y1="174.2" x2="570" y2="174.2" stroke="#555" stroke-width="0.5" />
<path d="M491.80,174.20 L495.30,173.30 L495.30,175.10 Z" fill="#3a3a3a" stroke="none"/>
<path d="M528.20,174.20 L524.70,175.10 L524.70,173.30 Z" fill="#3a3a3a" stroke="none"/>
<path d="M528.20,174.20 L531.70,173.30 L531.70,175.10 Z" fill="#3a3a3a" stroke="none"/>
<path d="M570.00,174.20 L566.50,175.10 L566.50,173.30 Z" fill="#3a3a3a" stroke="none"/>
<line x1="575.4" y1="174.2" x2="592" y2="174.2" stroke="#555" stroke-width="0.5" />
<path d="M575.40,174.20 L578.90,173.30 L578.90,175.10 Z" fill="#3a3a3a" stroke="none"/>
<text x="508" y="171.7" font-size="5.5" fill="#2a2a2a" text-anchor="middle" font-family="Liberation Sans" >34.5</text>
<text x="545.8" y="171.7" font-size="5.5" fill="#2a2a2a" text-anchor="middle" font-family="Liberation Sans" >42</text>
<text x="584.1" y="173.5" font-size="5.5" fill="#2a2a2a" text-anchor="middle" font-family="Liberation Sans" >6.5</text>
<line x1="491.8" y1="184" x2="575.4" y2="184" stroke="#555" stroke-width="0.5" />
<path d="M491.80,184.00 L495.40,182.85 L495.40,185.15 Z" fill="#3a3a3a" stroke="none"/>
<path d="M575.40,184.00 L571.80,185.15 L571.80,182.85 Z" fill="#3a3a3a" stroke="none"/>
<text x="531.5" y="183.2" font-size="5.5" fill="#2a2a2a" text-anchor="middle" font-family="Liberation Sans" >83</text>
<text x="88.7" y="250.6" font-size="6.8" fill="#2a2a2a" font-family="Liberation Sans">31，41<tspan font-size="6.1">为电流端子</tspan></text>
<line x1="86" y1="255" x2="140" y2="255" stroke="#555" stroke-width="0.9" />
<line x1="139.5" y1="255.2" x2="157.8" y2="265.2" stroke="#555" stroke-width="0.6" />
<line x1="139.5" y1="255.2" x2="157.8" y2="290.7" stroke="#555" stroke-width="0.6" />
<rect x="158.3" y="262.7" width="129.40" height="80.80" stroke="#555" stroke-width="0.8" fill="none"/>
<line x1="170.4" y1="262.7" x2="170.4" y2="343.5" stroke="#555" stroke-width="0.8" />
<line x1="182.8" y1="262.7" x2="182.8" y2="343.5" stroke="#555" stroke-width="0.8" />
<line x1="263.2" y1="262.7" x2="263.2" y2="343.5" stroke="#555" stroke-width="0.8" />
<line x1="275.5" y1="262.7" x2="275.5" y2="343.5" stroke="#555" stroke-width="0.8" />
<line x1="158.3" y1="275.6" x2="182.8" y2="275.6" stroke="#555" stroke-width="1.1" />
<line x1="263.2" y1="275.6" x2="287.7" y2="275.6" stroke="#555" stroke-width="1.1" />
<line x1="158.3" y1="284.9" x2="182.8" y2="284.9" stroke="#555" stroke-width="1.1" />
<line x1="263.2" y1="284.9" x2="287.7" y2="284.9" stroke="#555" stroke-width="1.1" />
<line x1="158.3" y1="294.1" x2="182.8" y2="294.1" stroke="#555" stroke-width="1.1" />
<line x1="263.2" y1="294.1" x2="287.7" y2="294.1" stroke="#555" stroke-width="1.1" />
<line x1="158.3" y1="312" x2="182.8" y2="312" stroke="#555" stroke-width="1.1" />
<line x1="263.2" y1="312" x2="287.7" y2="312" stroke="#555" stroke-width="1.1" />
<line x1="158.3" y1="321" x2="182.8" y2="321" stroke="#555" stroke-width="1.1" />
<line x1="263.2" y1="321" x2="287.7" y2="321" stroke="#555" stroke-width="1.1" />
<line x1="158.3" y1="330.5" x2="182.8" y2="330.5" stroke="#555" stroke-width="1.1" />
<line x1="263.2" y1="330.5" x2="287.7" y2="330.5" stroke="#555" stroke-width="1.1" />
<rect x="185.4" y="277.4" width="75.10" height="52.70" stroke="#555" stroke-width="0.8" fill="none"/>
<line x1="223.5" y1="253" x2="223.5" y2="353.2" stroke="#555" stroke-width="0.6" />
<line x1="147.8" y1="303.2" x2="294.8" y2="303.2" stroke="#555" stroke-width="0.7" />
<path d="M219.2,262.7 V266.8 Q219.2,268.2 220.6,268.2 H226.2 Q227.6,268.2 227.6,266.8 V262.7" stroke="#555" stroke-width="0.6" fill="none" />
<path d="M219.3,343.5 V340.1 Q219.3,338.8 220.6,338.8 H226.3 Q227.6,338.8 227.6,340.1 V343.5" stroke="#555" stroke-width="0.7" fill="none" />
<path d="M185.7,277.4 V271.3 Q185.7,269.7 187.3,269.7 H200.3 Q201.9,269.7 201.9,271.3 V277.4" stroke="#555" stroke-width="0.6" fill="none" />
<line x1="193.9" y1="269.7" x2="193.9" y2="277.4" stroke="#555" stroke-width="0.6" />
<ellipse cx="189.3" cy="273.3" rx="2.0" ry="2.6" stroke="#555" stroke-width="0.65" fill="none"/>
<line x1="189.3" y1="269.7" x2="189.3" y2="277.1" stroke="#555" stroke-width="0.55" />
<line x1="187.3" y1="273.3" x2="191.3" y2="273.3" stroke="#555" stroke-width="0.4" />
<ellipse cx="197.7" cy="273.3" rx="2.0" ry="2.6" stroke="#555" stroke-width="0.65" fill="none"/>
<line x1="197.7" y1="269.7" x2="197.7" y2="277.1" stroke="#555" stroke-width="0.55" />
<line x1="195.7" y1="273.3" x2="199.7" y2="273.3" stroke="#555" stroke-width="0.4" />
<path d="M223.8,277.4 V271.3 Q223.8,269.7 225.4,269.7 H237.9 Q239.5,269.7 239.5,271.3 V277.4" stroke="#555" stroke-width="0.6" fill="none" />
<line x1="231.5" y1="269.7" x2="231.5" y2="277.4" stroke="#555" stroke-width="0.6" />
<ellipse cx="227.4" cy="273.3" rx="2.0" ry="2.6" stroke="#555" stroke-width="0.65" fill="none"/>
<line x1="227.4" y1="269.7" x2="227.4" y2="277.1" stroke="#555" stroke-width="0.55" />
<line x1="225.4" y1="273.3" x2="229.4" y2="273.3" stroke="#555" stroke-width="0.4" />
<ellipse cx="235.7" cy="273.3" rx="2.0" ry="2.6" stroke="#555" stroke-width="0.65" fill="none"/>
<line x1="235.7" y1="269.7" x2="235.7" y2="277.1" stroke="#555" stroke-width="0.55" />
<line x1="233.7" y1="273.3" x2="237.7" y2="273.3" stroke="#555" stroke-width="0.4" />
<path d="M206.3,330 V335.9 Q206.3,337.5 207.9,337.5 H221.8 Q223.4,337.5 223.4,335.9 V330" stroke="#555" stroke-width="0.6" fill="none" />
<line x1="214.9" y1="330" x2="214.9" y2="337.5" stroke="#555" stroke-width="0.6" />
<ellipse cx="210.3" cy="333.6" rx="2.0" ry="2.6" stroke="#555" stroke-width="0.65" fill="none"/>
<line x1="210.3" y1="330.0" x2="210.3" y2="337.40000000000003" stroke="#555" stroke-width="0.55" />
<line x1="208.3" y1="333.6" x2="212.3" y2="333.6" stroke="#555" stroke-width="0.4" />
<ellipse cx="219.7" cy="333.6" rx="2.0" ry="2.6" stroke="#555" stroke-width="0.65" fill="none"/>
<line x1="219.7" y1="330.0" x2="219.7" y2="337.40000000000003" stroke="#555" stroke-width="0.55" />
<line x1="217.7" y1="333.6" x2="221.7" y2="333.6" stroke="#555" stroke-width="0.4" />
<path d="M243.5,330 V335.9 Q243.5,337.5 245.1,337.5 H258.4 Q260,337.5 260,335.9 V330" stroke="#555" stroke-width="0.6" fill="none" />
<line x1="251.8" y1="330" x2="251.8" y2="337.5" stroke="#555" stroke-width="0.6" />
<ellipse cx="247.4" cy="333.6" rx="2.0" ry="2.6" stroke="#555" stroke-width="0.65" fill="none"/>
<line x1="247.4" y1="330.0" x2="247.4" y2="337.40000000000003" stroke="#555" stroke-width="0.55" />
<line x1="245.4" y1="333.6" x2="249.4" y2="333.6" stroke="#555" stroke-width="0.4" />
<ellipse cx="256.3" cy="333.6" rx="2.0" ry="2.6" stroke="#555" stroke-width="0.65" fill="none"/>
<line x1="256.3" y1="330.0" x2="256.3" y2="337.40000000000003" stroke="#555" stroke-width="0.55" />
<line x1="254.3" y1="333.6" x2="258.3" y2="333.6" stroke="#555" stroke-width="0.4" />
<circle cx="212.7" cy="271.6" r="4.4" stroke="#555" stroke-width="0.8" fill="none"/>
<circle cx="212.7" cy="271.6" r="1.8" stroke="#555" stroke-width="0.5" fill="#ddd"/>
<line x1="206.2" y1="271.6" x2="219.2" y2="271.6" stroke="#555" stroke-width="0.6" />
<line x1="212.7" y1="265.6" x2="212.7" y2="277.6" stroke="#555" stroke-width="0.6" />
<circle cx="234.2" cy="335.1" r="4.4" stroke="#555" stroke-width="0.8" fill="none"/>
<circle cx="234.2" cy="335.1" r="1.8" stroke="#555" stroke-width="0.5" fill="#ddd"/>
<line x1="227.7" y1="335.1" x2="240.7" y2="335.1" stroke="#555" stroke-width="0.6" />
<line x1="234.2" y1="329.1" x2="234.2" y2="341.1" stroke="#555" stroke-width="0.6" />
<polygon points="168.50,270.40 166.45,273.95 162.35,273.95 160.30,270.40 162.35,266.85 166.45,266.85" stroke="#555" stroke-width="0.7" fill="none"/>
<polygon points="180.80,270.40 178.75,273.95 174.65,273.95 172.60,270.40 174.65,266.85 178.75,266.85" stroke="#555" stroke-width="0.7" fill="none"/>
<polygon points="273.40,270.40 271.35,273.95 267.25,273.95 265.20,270.40 267.25,266.85 271.35,266.85" stroke="#555" stroke-width="0.7" fill="none"/>
<polygon points="285.80,270.40 283.75,273.95 279.65,273.95 277.60,270.40 279.65,266.85 283.75,266.85" stroke="#555" stroke-width="0.7" fill="none"/>
<polygon points="168.50,279.75 166.45,283.30 162.35,283.30 160.30,279.75 162.35,276.20 166.45,276.20" stroke="#555" stroke-width="0.7" fill="none"/>
<polygon points="180.80,279.75 178.75,283.30 174.65,283.30 172.60,279.75 174.65,276.20 178.75,276.20" stroke="#555" stroke-width="0.7" fill="none"/>
<polygon points="273.40,279.75 271.35,283.30 267.25,283.30 265.20,279.75 267.25,276.20 271.35,276.20" stroke="#555" stroke-width="0.7" fill="none"/>
<polygon points="285.80,279.75 283.75,283.30 279.65,283.30 277.60,279.75 279.65,276.20 283.75,276.20" stroke="#555" stroke-width="0.7" fill="none"/>
<polygon points="168.50,289.40 166.45,292.95 162.35,292.95 160.30,289.40 162.35,285.85 166.45,285.85" stroke="#555" stroke-width="0.7" fill="none"/>
<polygon points="180.80,289.40 178.75,292.95 174.65,292.95 172.60,289.40 174.65,285.85 178.75,285.85" stroke="#555" stroke-width="0.7" fill="none"/>
<polygon points="273.40,289.40 271.35,292.95 267.25,292.95 265.20,289.40 267.25,285.85 271.35,285.85" stroke="#555" stroke-width="0.7" fill="none"/>
<polygon points="285.80,289.40 283.75,292.95 279.65,292.95 277.60,289.40 279.65,285.85 283.75,285.85" stroke="#555" stroke-width="0.7" fill="none"/>
<polygon points="168.50,298.75 166.45,302.30 162.35,302.30 160.30,298.75 162.35,295.20 166.45,295.20" stroke="#555" stroke-width="0.7" fill="none"/>
<polygon points="180.80,298.75 178.75,302.30 174.65,302.30 172.60,298.75 174.65,295.20 178.75,295.20" stroke="#555" stroke-width="0.7" fill="none"/>
<polygon points="273.40,298.75 271.35,302.30 267.25,302.30 265.20,298.75 267.25,295.20 271.35,295.20" stroke="#555" stroke-width="0.7" fill="none"/>
<polygon points="285.80,298.75 283.75,302.30 279.65,302.30 277.60,298.75 279.65,295.20 283.75,295.20" stroke="#555" stroke-width="0.7" fill="none"/>
<polygon points="168.50,307.60 166.45,311.15 162.35,311.15 160.30,307.60 162.35,304.05 166.45,304.05" stroke="#555" stroke-width="0.7" fill="none"/>
<polygon points="180.80,307.60 178.75,311.15 174.65,311.15 172.60,307.60 174.65,304.05 178.75,304.05" stroke="#555" stroke-width="0.7" fill="none"/>
<polygon points="273.40,307.60 271.35,311.15 267.25,311.15 265.20,307.60 267.25,304.05 271.35,304.05" stroke="#555" stroke-width="0.7" fill="none"/>
<polygon points="285.80,307.60 283.75,311.15 279.65,311.15 277.60,307.60 279.65,304.05 283.75,304.05" stroke="#555" stroke-width="0.7" fill="none"/>
<polygon points="168.50,316.60 166.45,320.15 162.35,320.15 160.30,316.60 162.35,313.05 166.45,313.05" stroke="#555" stroke-width="0.7" fill="none"/>
<polygon points="180.80,316.60 178.75,320.15 174.65,320.15 172.60,316.60 174.65,313.05 178.75,313.05" stroke="#555" stroke-width="0.7" fill="none"/>
<polygon points="273.40,316.60 271.35,320.15 267.25,320.15 265.20,316.60 267.25,313.05 271.35,313.05" stroke="#555" stroke-width="0.7" fill="none"/>
<polygon points="285.80,316.60 283.75,320.15 279.65,320.15 277.60,316.60 279.65,313.05 283.75,313.05" stroke="#555" stroke-width="0.7" fill="none"/>
<polygon points="168.50,325.60 166.45,329.15 162.35,329.15 160.30,325.60 162.35,322.05 166.45,322.05" stroke="#555" stroke-width="0.7" fill="none"/>
<polygon points="180.80,325.60 178.75,329.15 174.65,329.15 172.60,325.60 174.65,322.05 178.75,322.05" stroke="#555" stroke-width="0.7" fill="none"/>
<polygon points="273.40,325.60 271.35,329.15 267.25,329.15 265.20,325.60 267.25,322.05 271.35,322.05" stroke="#555" stroke-width="0.7" fill="none"/>
<polygon points="285.80,325.60 283.75,329.15 279.65,329.15 277.60,325.60 279.65,322.05 283.75,322.05" stroke="#555" stroke-width="0.7" fill="none"/>
<polygon points="168.50,335.30 166.45,338.85 162.35,338.85 160.30,335.30 162.35,331.75 166.45,331.75" stroke="#555" stroke-width="0.7" fill="none"/>
<polygon points="180.80,335.30 178.75,338.85 174.65,338.85 172.60,335.30 174.65,331.75 178.75,331.75" stroke="#555" stroke-width="0.7" fill="none"/>
<polygon points="273.40,335.30 271.35,338.85 267.25,338.85 265.20,335.30 267.25,331.75 271.35,331.75" stroke="#555" stroke-width="0.7" fill="none"/>
<polygon points="285.80,335.30 283.75,338.85 279.65,338.85 277.60,335.30 279.65,331.75 283.75,331.75" stroke="#555" stroke-width="0.7" fill="none"/>
<line x1="289.2" y1="262.7" x2="306" y2="262.7" stroke="#555" stroke-width="0.6" />
<line x1="287.5" y1="343.5" x2="307" y2="343.5" stroke="#555" stroke-width="0.6" />
<line x1="301.6" y1="262.7" x2="301.6" y2="343.5" stroke="#555" stroke-width="0.6" />
<path d="M301.60,262.70 L302.90,266.00 L300.30,266.00 Z" fill="#3a3a3a" stroke="none"/>
<path d="M301.60,343.50 L300.30,340.20 L302.90,340.20 Z" fill="#3a3a3a" stroke="none"/>
<text x="0" y="0" font-size="7" fill="#2a2a2a" font-family="Liberation Sans" text-anchor="middle" transform="translate(301.2 302.6) rotate(-90) scale(0.92 1)">100max</text>
<line x1="158.5" y1="346" x2="158.5" y2="366.6" stroke="#555" stroke-width="0.6" />
<line x1="287.2" y1="346" x2="287.2" y2="366.6" stroke="#555" stroke-width="0.6" />
<line x1="158.5" y1="363.8" x2="287.2" y2="363.8" stroke="#555" stroke-width="0.6" />
<path d="M158.50,363.80 L161.80,362.50 L161.80,365.10 Z" fill="#3a3a3a" stroke="none"/>
<path d="M287.20,363.80 L283.90,365.10 L283.90,362.50 Z" fill="#3a3a3a" stroke="none"/>
<text x="0" y="0" font-size="7" fill="#2a2a2a" font-family="Liberation Sans" text-anchor="middle" transform="translate(225 362.8) scale(0.95 1)">152max</text>
<circle cx="406" cy="269.4" r="5.2" stroke="#555" stroke-width="0.7" fill="none"/>
<line x1="406" y1="258" x2="406" y2="362" stroke="#555" stroke-width="0.7" />
<line x1="383" y1="269.4" x2="422" y2="269.4" stroke="#555" stroke-width="0.7" />
<circle cx="423.7" cy="333.6" r="5.2" stroke="#555" stroke-width="0.7" fill="none"/>
<line x1="423.7" y1="322.4" x2="423.7" y2="362.2" stroke="#555" stroke-width="0.7" />
<line x1="382.7" y1="333.6" x2="437.1" y2="333.6" stroke="#555" stroke-width="0.7" />
<line x1="385" y1="271.9" x2="385" y2="331.2" stroke="#555" stroke-width="0.6" />
<text x="0" y="0" font-size="7.6" fill="#2a2a2a" font-family="Liberation Sans" text-anchor="middle" transform="translate(384.8 299.6) rotate(-90) scale(0.9 1)">76±0.2</text>
<line x1="414.4" y1="339.4" x2="445.9" y2="319.3" stroke="#555" stroke-width="0.6" />
<line x1="445.9" y1="319.3" x2="469.5" y2="319.3" stroke="#555" stroke-width="0.6" />
<circle cx="417" cy="337.6" r="0.9" stroke="#555" stroke-width="0" fill="#555"/>
<circle cx="430.7" cy="329.4" r="0.9" stroke="#555" stroke-width="0" fill="#555"/>
<text x="0" y="0" font-size="7.2" fill="#2a2a2a" font-family="Liberation Sans" text-anchor="middle" transform="translate(458 317.9) scale(1 1)">2-φ4.2</text>
<line x1="406" y1="358.3" x2="452.9" y2="358.3" stroke="#555" stroke-width="0.6" />
<path d="M406.00,358.30 L409.30,357.00 L409.30,359.60 Z" fill="#3a3a3a" stroke="none"/>
<path d="M423.70,358.30 L420.40,359.60 L420.40,357.00 Z" fill="#3a3a3a" stroke="none"/>
<text x="0" y="0" font-size="7.2" fill="#2a2a2a" font-family="Liberation Sans" text-anchor="middle" transform="translate(441.5 357.8) scale(0.98 1)">20±0.2</text>
<path d="M510.9,244.3 V310.3 L505.4,323.4 V339.2" stroke="#555" stroke-width="0.8" fill="none" />
<path d="M510.9,244.3 H545.3 V339.2" stroke="#555" stroke-width="0.8" fill="none" />
<path d="M545.3,312.4 L549.9,323.8 V339.2" stroke="#555" stroke-width="0.8" fill="none" />
<line x1="545.3" y1="324.1" x2="549.9" y2="324.1" stroke="#555" stroke-width="0.7" />
<line x1="505.4" y1="327.4" x2="549.9" y2="327.4" stroke="#555" stroke-width="0.6" />
<rect x="505.4" y="330.2" width="44.5" height="2.4" fill="#9a9a9a"/>
<line x1="505.4" y1="336.1" x2="549.9" y2="336.1" stroke="#555" stroke-width="0.8" />
<line x1="513.8" y1="332.6" x2="513.8" y2="336.1" stroke="#555" stroke-width="0.8" />
<path d="M541.6,336.1 V333.9 L545.1,330.4" stroke="#555" stroke-width="0.7" fill="none" />
<path d="M500.4,339.2 H554.5 V362.3 H501.4 Q500.4,362.3 500.4,361.3 Z" stroke="#555" stroke-width="0.8" fill="none" />
<line x1="500.4" y1="342.75" x2="554.5" y2="342.75" stroke="#555" stroke-width="0.7" />
<line x1="500.4" y1="346.3" x2="554.5" y2="346.3" stroke="#555" stroke-width="0.7" />
<line x1="510.6" y1="339.2" x2="510.6" y2="346.3" stroke="#555" stroke-width="0.7" />
<line x1="517.7" y1="339.2" x2="517.7" y2="346.3" stroke="#555" stroke-width="0.7" />
<line x1="524.7" y1="339.2" x2="524.7" y2="346.3" stroke="#555" stroke-width="0.7" />
<line x1="531.1" y1="339.2" x2="531.1" y2="346.3" stroke="#555" stroke-width="0.7" />
<line x1="537.5" y1="339.2" x2="537.5" y2="346.3" stroke="#555" stroke-width="0.7" />
<line x1="545.3" y1="339.2" x2="545.3" y2="346.3" stroke="#555" stroke-width="0.7" />
<line x1="546.5" y1="244.3" x2="577.2" y2="244.3" stroke="#555" stroke-width="0.6" />
<line x1="554.7" y1="362.3" x2="577.2" y2="362.3" stroke="#555" stroke-width="0.6" />
<line x1="574.4" y1="244.3" x2="574.4" y2="362.3" stroke="#555" stroke-width="0.6" />
<path d="M574.40,244.30 L575.70,247.60 L573.10,247.60 Z" fill="#3a3a3a" stroke="none"/>
<path d="M574.40,362.30 L573.10,359.00 L575.70,359.00 Z" fill="#3a3a3a" stroke="none"/>
<text x="0" y="0" font-size="7" fill="#2a2a2a" font-family="Liberation Sans" text-anchor="middle" transform="translate(572.5 299.4) rotate(-90) scale(0.93 1)">185MAX</text>
</svg>
</body></html>
